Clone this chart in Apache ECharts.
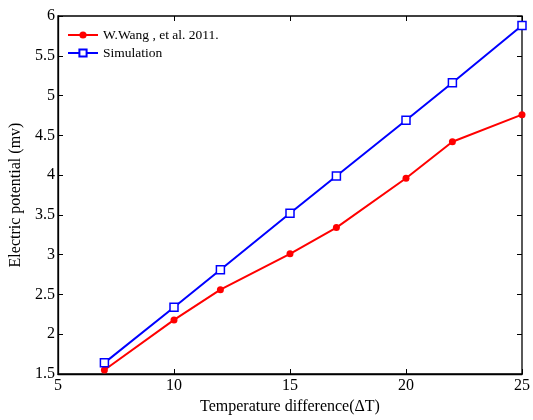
<!DOCTYPE html>
<html>
<head>
<meta charset="utf-8">
<script src="https://cdn.jsdelivr.net/npm/echarts@6/dist/echarts.min.js"></script>
<style>
  html, body { margin: 0; padding: 0; background: #fff; }
  #chart { width: 533px; height: 420px; }
</style>
</head>
<body>
<div id="chart"></div>
<script>
  // data
  const deltaT = [7, 10, 12, 15, 17, 20, 22, 25]
  const wangValues = [1.55, 2.18, 2.56, 3.01, 3.34, 3.96, 4.42, 4.76]
  const simValues = [1.64, 2.34, 2.81, 3.52, 3.99, 4.69, 5.16, 5.88]
  const seriesNames = ['W.Wang , et al. 2011.', 'Simulation']

  const font = 'Liberation Serif'
  const pairs = (xs, ys) => xs.map((x, i) => [x, ys[i]])

  const mychart = echarts.init(document.getElementById('chart'))
  const hiddenAxis = {
    axisLine: { show: false },
    axisLabel: { show: false },
    splitLine: { show: false },
    axisTick: { show: true, inside: true, length: 5, lineStyle: { color: '#000' } },
  }
  const option = {
    animation: false,
    grid: {
      left: 55, right: 8, top: 16, bottom: 45,
      show: true, borderColor: '#000', borderWidth: 1.3,
    },
    legend: {
      left: 62, top: 23, orient: 'vertical',
      itemWidth: 30, itemHeight: 9, itemGap: 4,
      textStyle: { fontFamily: font, fontSize: 13.5, color: '#000' },
      data: seriesNames,
    },
    xAxis: [
      {
        type: 'value', min: 5, max: 25, interval: 5,
        name: 'Temperature difference(ΔT)',
        nameLocation: 'middle', nameGap: 25,
        nameTextStyle: { fontFamily: font, fontSize: 16, color: '#000' },
        axisLine: { show: true, lineStyle: { color: '#000', width: 1.3 } },
        axisTick: { inside: true, length: 5, lineStyle: { color: '#000' } },
        axisLabel: { fontFamily: font, fontSize: 16, color: '#000', margin: 4 },
        splitLine: { show: false },
      },
      Object.assign({ type: 'value', min: 5, max: 25, interval: 5, position: 'top' }, hiddenAxis),
    ],
    yAxis: [
      {
        type: 'value', min: 1.5, max: 6, interval: 0.5,
        name: 'Electric potential (mv)',
        nameLocation: 'middle', nameGap: 34,
        nameTextStyle: { fontFamily: font, fontSize: 16, color: '#000' },
        axisLine: { show: true, lineStyle: { color: '#000', width: 1.3 } },
        axisTick: { inside: true, length: 5, lineStyle: { color: '#000' } },
        axisLabel: { fontFamily: font, fontSize: 16, color: '#000', margin: 3 },
        splitLine: { show: false },
      },
      Object.assign({ type: 'value', min: 1.5, max: 6, interval: 0.5, position: 'right' }, hiddenAxis),
    ],
    series: [
      {
        name: seriesNames[0],
        type: 'line',
        data: pairs(deltaT, wangValues),
        symbol: 'circle', symbolSize: 7,
        lineStyle: { color: '#ff0000', width: 2 },
        itemStyle: { color: '#ff0000' },
      },
      {
        name: seriesNames[1],
        type: 'line',
        data: pairs(deltaT, simValues),
        symbol: 'rect', symbolSize: 8,
        lineStyle: { color: '#0000ff', width: 2 },
        itemStyle: { color: '#fff', borderColor: '#0000ff', borderWidth: 1.5 },
      },
    ],
  }
  mychart.setOption(option)
</script>
</body>
</html>
